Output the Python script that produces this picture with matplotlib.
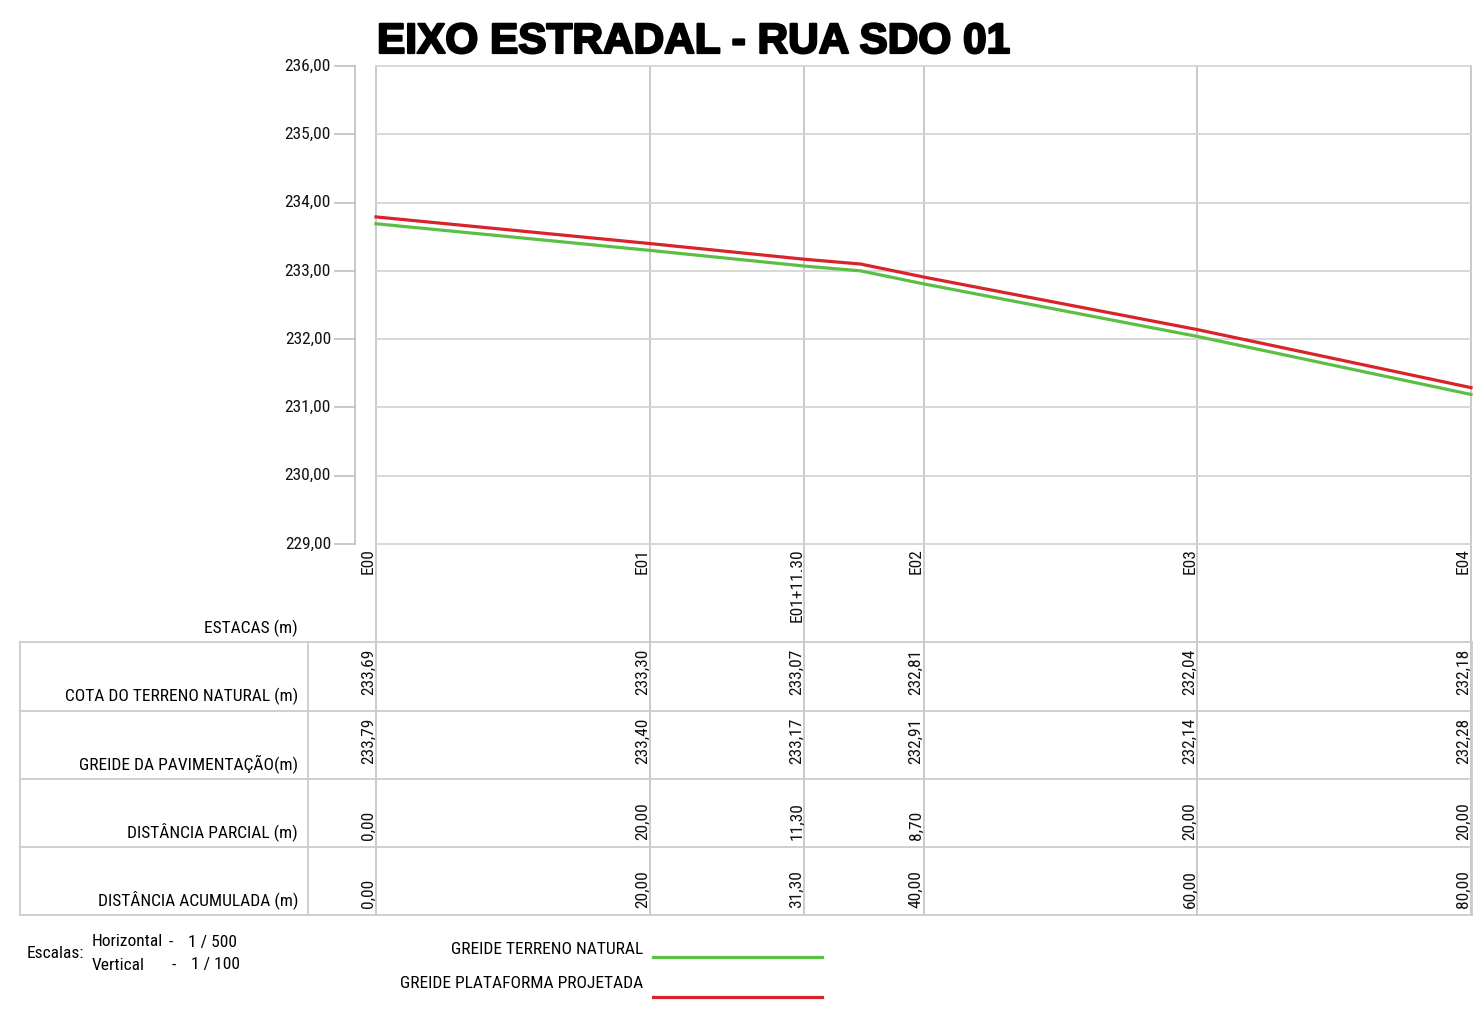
import matplotlib
matplotlib.use("Agg")
import matplotlib.pyplot as plt
import matplotlib.patheffects as pe
from matplotlib.transforms import blended_transform_factory

# estacas e tabela
estacas = ["E00", "E01", "E01+11.30", "E02", "E03", "E04"]
dist_acumulada = [0.0, 20.0, 31.3, 40.0, 60.0, 80.0]
dist_parcial = [0.0, 20.0, 11.3, 8.7, 20.0, 20.0]
cota_terreno = [233.69, 233.30, 233.07, 232.81, 232.04, 232.18]
greide_pav = [233.79, 233.40, 233.17, 232.91, 232.14, 232.28]

# perfis desenhados
perfil_dist = [0.0, 20.0, 31.3, 35.4, 40.0, 60.0, 80.0]
terreno_natural = [233.69, 233.30, 233.07, 233.00, 232.81, 232.04, 231.19]
plataforma = [233.79, 233.40, 233.17, 233.10, 232.91, 232.14, 231.29]

cotas_eixo = [229, 230, 231, 232, 233, 234, 235, 236]

linhas_tabela = ["COTA DO TERRENO NATURAL (m)", "GREIDE DA PAVIMENTAÇÃO(m)",
                 "DISTÂNCIA PARCIAL (m)", "DISTÂNCIA ACUMULADA (m)"]
valores_tabela = [cota_terreno, greide_pav, dist_parcial, dist_acumulada]

VERDE = "#5cbf45"
VERMELHO = "#d8232a"
FONTE = ["Liberation Sans Narrow", "Roboto Condensed", "Archivo Narrow", "Liberation Sans"]
TAM = 12.5
W, H = 1477, 1009


def br(v):
    return f"{v:.2f}".replace(".", ",")


fig = plt.figure(figsize=(W / 100, H / 100), dpi=100)
ax = fig.add_axes([376 / W, 1 - 544 / H, (1471 - 376) / W, (544 - 66) / H])
ax.set_xlim(0, 80)
ax.set_ylim(229, 236)
ax.axis("off")

ov = fig.add_axes([0, 0, 1, 1], zorder=-1)
ov.set_xlim(0, W)
ov.set_ylim(H, 0)
ov.axis("off")

tx = blended_transform_factory(ax.transData, ov.transData)  # x em metros, y em pixels
ty = blended_transform_factory(ov.transData, ax.transData)  # x em pixels, y em cota

# grade do perfil
for c in cotas_eixo:
    ax.axhline(c, color="#d6d6d6", lw=1.3, zorder=1, clip_on=False)
for d in dist_acumulada:
    ov.plot([d, d], [66, 915], color="#bcbcbc", lw=1.1, transform=tx, zorder=1)

# eixo vertical com cotas
ov.plot([355, 355], [66, 544], color="#c4c4c4", lw=1.3)
for c in cotas_eixo:
    ov.plot([335, 355], [c, c], color="#c4c4c4", lw=1.3, transform=ty)
    ov.text(331, c, br(c), transform=ty, ha="right", va="center",
            fontsize=TAM, family=FONTE, color="#111111")

ax.plot(perfil_dist, terreno_natural, color=VERDE, lw=2.3, zorder=3, clip_on=False)
ax.plot(perfil_dist, plataforma, color=VERMELHO, lw=2.3, zorder=4, clip_on=False)

fig.text(377 / W, 1 - 42 / H, "EIXO ESTRADAL - RUA SDO 01", ha="left", va="center",
         fontsize=30.5, fontweight="black", family=["Liberation Sans", "DejaVu Sans"],
         path_effects=[pe.withStroke(linewidth=1.6, foreground="black")])

# estacas
for e, d in zip(estacas, dist_acumulada):
    ov.text(d, 548, e, transform=tx, rotation=90, ha="right", va="top",
            fontsize=TAM, family=FONTE, color="#111111")
ov.text(298, 628, "ESTACAS (m)", ha="right", va="center", fontsize=TAM, family=FONTE)

# tabela
ylinhas = [642, 711, 779, 847, 915]
for y in ylinhas:
    ov.plot([20, 1472], [y, y], color="#cccccc", lw=1.3)
ov.plot([20, 20], [642, 915], color="#cccccc", lw=1.3)
ov.plot([308, 308], [642, 915], color="#cccccc", lw=1.3)
ov.plot([1472, 1472], [642, 915], color="#cccccc", lw=1.3)

for i, (nome, vals) in enumerate(zip(linhas_tabela, valores_tabela)):
    y0, y1 = ylinhas[i], ylinhas[i + 1]
    ov.text(298, y1 - 15, nome, ha="right", va="center", fontsize=TAM, family=FONTE)
    for d, v in zip(dist_acumulada, vals):
        if i < 2:
            ov.text(d, y0 + 7, br(v), transform=tx, rotation=90, ha="right", va="top",
                    fontsize=TAM, family=FONTE, color="#111111")
        else:
            ov.text(d, y1 - 7, br(v), transform=tx, rotation=90, ha="right", va="bottom",
                    fontsize=TAM, family=FONTE, color="#111111")

# escalas e legenda
ov.text(27, 953, "Escalas:", ha="left", va="center", fontsize=TAM, family=FONTE)
ov.text(92, 942, "Horizontal", ha="left", va="center", fontsize=TAM, family=FONTE)
ov.text(169, 942, "-", ha="left", va="center", fontsize=TAM, family=FONTE)
ov.text(188, 942, "1 / 500", ha="left", va="center", fontsize=TAM, family=FONTE)
ov.text(92, 965, "Vertical", ha="left", va="center", fontsize=TAM, family=FONTE)
ov.text(172, 965, "-", ha="left", va="center", fontsize=TAM, family=FONTE)
ov.text(191, 965, "1 / 100", ha="left", va="center", fontsize=TAM, family=FONTE)

ov.text(643, 950, "GREIDE TERRENO NATURAL", ha="right", va="center", fontsize=TAM, family=FONTE)
ov.plot([653, 822], [957, 957], color=VERDE, lw=2.3)
ov.text(643, 983, "GREIDE PLATAFORMA PROJETADA", ha="right", va="center", fontsize=TAM, family=FONTE)
ov.plot([653, 822], [997, 997], color=VERMELHO, lw=2.3)

fig.savefig("out.png", dpi=100, facecolor="white")
